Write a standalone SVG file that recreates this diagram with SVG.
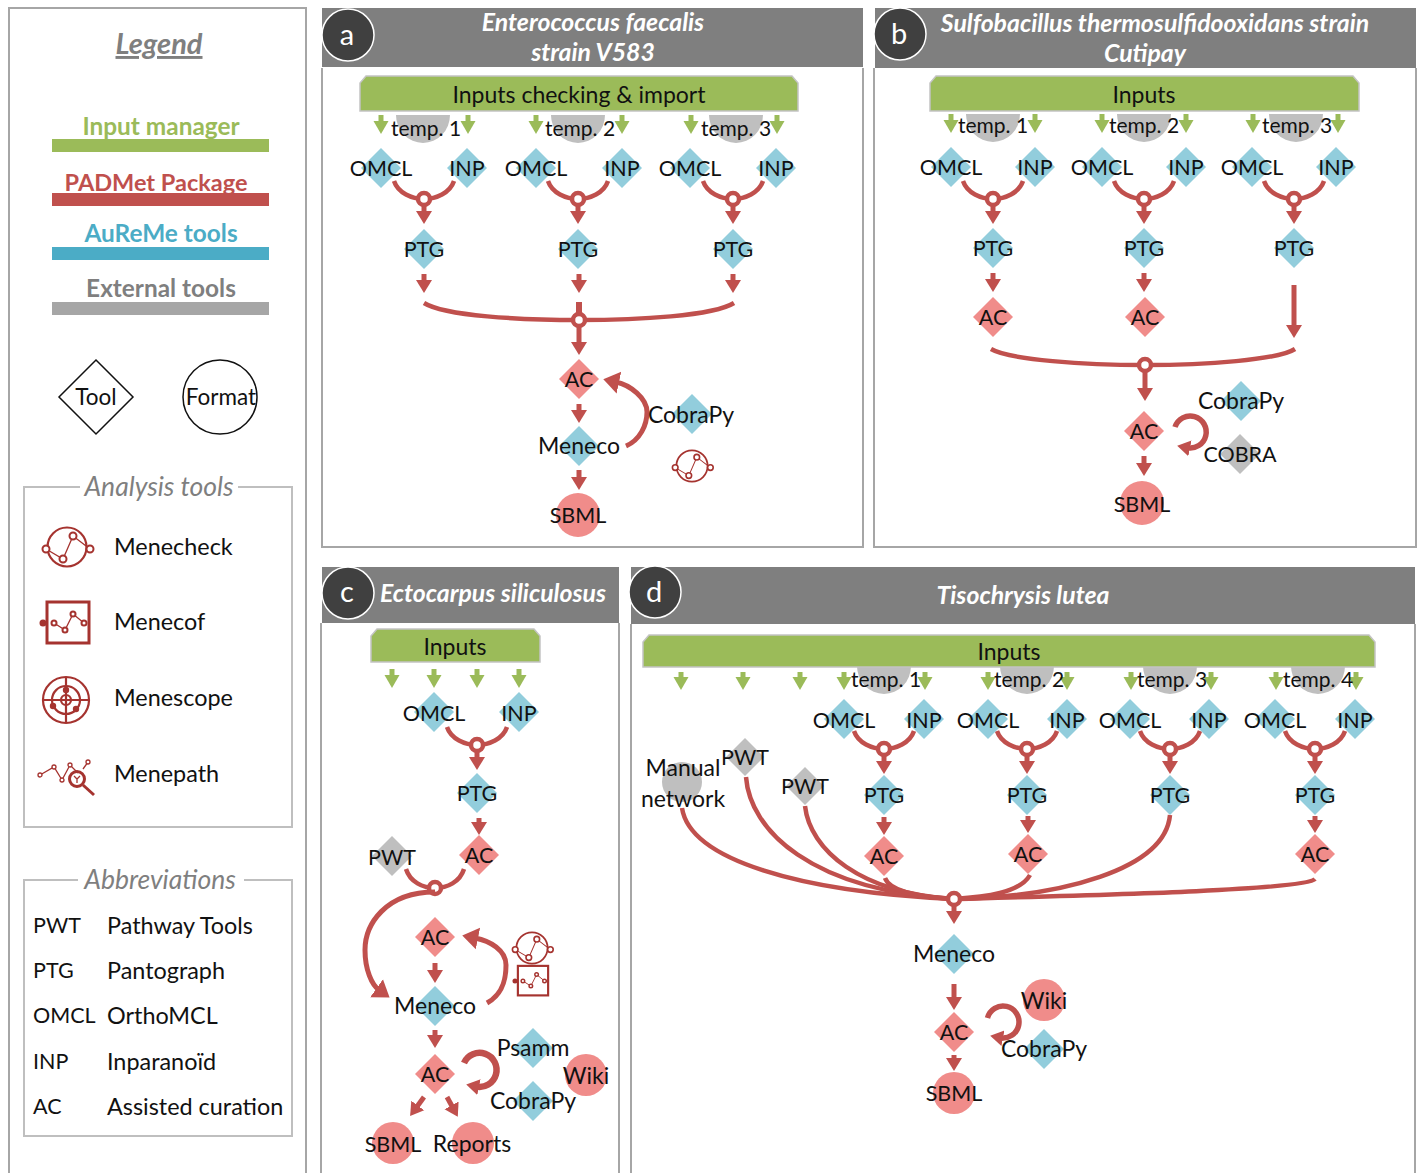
<svg xmlns="http://www.w3.org/2000/svg" width="1419" height="1173" viewBox="0 0 1419 1173">
<style>
text{font-family:Lato,"Open Sans","Liberation Sans",sans-serif;fill:#111}
.t{font-size:23px;text-anchor:middle}
.u{font-size:21.500px;text-anchor:middle}
.l{font-size:23.400px}
.lu{font-size:21.500px}
.s{font-size:21px;text-anchor:middle}
.h{font-size:24.800px;font-weight:700;font-style:italic;fill:#fff;text-anchor:middle}
.tag{font-size:29px;fill:#fff;text-anchor:middle}
.g{font-size:26.500px;font-style:italic;fill:#7f7f7f;text-anchor:middle}
.lt{font-size:24.400px;font-weight:700;text-anchor:middle}
.b{fill:#92cddc}.r{fill:#f08c8a}.y{fill:#bfbfbf}
.hd{fill:#7f7f7f}
.fr{fill:none;stroke:#a6a6a6;stroke-width:2}
.bx{fill:none;stroke:#bfbfbf;stroke-width:2}
.bar{fill:#9bbb59;stroke:#c4c4c4;stroke-width:1.500}
.c{fill:none;stroke:#c0504d;stroke-width:4.500}
.a5{fill:none;stroke:#c0504d;stroke-width:5;marker-end:url(#ab)}
.a6{fill:none;stroke:#c0504d;stroke-width:5.500;marker-end:url(#ah)}
.k{stroke:#c0504d;stroke-width:5;marker-end:url(#ah)}
.q{stroke:#9bbb59;stroke-width:5;marker-end:url(#ag)}
.o{fill:#fff;stroke:#c0504d;stroke-width:4.500}
.ic{fill:none;stroke:#a5332f;stroke-width:1.300}
.icr{fill:none;stroke:#a5332f;stroke-width:2.200}
.icb{fill:none;stroke:#a5332f;stroke-width:3}
.icn{fill:#fff;stroke:#a5332f;stroke-width:2}
.icf{fill:#a5332f}
</style>
<defs>
<marker id="ah" markerUnits="userSpaceOnUse" markerWidth="20" markerHeight="20" refX="3" refY="9" orient="auto"><path d="M0 1 13 9 0 17z" fill="#c0504d"/></marker>
<marker id="ab" markerUnits="userSpaceOnUse" markerWidth="26" markerHeight="26" refX="3" refY="12" orient="auto"><path d="M0 1 16 12 0 23z" fill="#c0504d"/></marker>
<marker id="ag" markerUnits="userSpaceOnUse" markerWidth="20" markerHeight="20" refX="3" refY="9" orient="auto"><path d="M0 1.500 13 9 0 16.500z" fill="#9bbb59"/></marker>
<path id="d" d="M0-20 20 0 0 20-20 0z"/>
<path id="semi" d="M-27 0A27 28 0 0 0 27 0z" fill="#bfbfbf"/>
<g id="fork"><path class="c" d="M-30-18C-26-6-12 0 0 0S26-6 30-18"/><line class="k" x1="0" y1="5" x2="0" y2="15"/><circle class="o" r="6"/></g>
<g id="fork2"><path class="c" d="M-29-19C-25-6-12 0 0 0S25-6 29-19"/><circle class="o" r="6"/></g>
<g id="check"><circle class="icr" r="19.500"/><path class="ic" d="M-21 2-4 12 6-11 23 2"/><circle class="icn" cx="-21" cy="2" r="3.500"/><circle class="icn" cx="-4" cy="12" r="3.500"/><circle class="icn" cx="6" cy="-11" r="3.500"/><circle class="icn" cx="23" cy="2" r="3.500"/></g>
<g id="cof"><rect class="icb" x="-21" y="-21" width="42" height="41"/><path class="ic" d="M-14 0-3 7 5-9 16 0"/><circle class="icn" cx="-14" cy="0" r="2.500"/><circle class="icn" cx="-3" cy="7" r="2.500"/><circle class="icn" cx="5" cy="-9" r="2.500"/><circle class="icn" cx="16" cy="0" r="2.500"/><circle class="icf" cx="-25" cy="0" r="3.500"/></g>
<g id="scope"><circle class="icr" r="23"/><circle class="icr" r="14"/><circle class="icr" r="5"/><path class="icr" d="M-23 0H23M0-23V23"/><circle class="icf" cx="0" cy="-10" r="3.200"/><circle class="icf" cx="-13" cy="6" r="3.200"/><circle class="icf" cx="10" cy="9" r="3.200"/></g>
<g id="path"><path class="ic" d="M-26-2-12-10-4 3 4-12 12-4M17-8 22-15"/><circle class="icn" style="stroke-width:1.300" cx="-26" cy="-2" r="2"/><circle class="icn" style="stroke-width:1.300" cx="-12" cy="-10" r="2"/><circle class="icn" style="stroke-width:1.300" cx="-4" cy="3" r="2"/><circle class="icn" style="stroke-width:1.300" cx="4" cy="-12" r="2"/><circle class="icn" style="stroke-width:1.300" cx="22" cy="-15" r="2"/><circle class="icb" cx="11" cy="2" r="7.500"/><path class="icb" d="M17 8 28 18"/><path class="ic" d="M8-1 11 2 14-1M11 2V6"/></g>
</defs>

<g id="legend">
<rect class="fr" x="9" y="8" width="297" height="1175"/>
<text x="159" y="54" text-anchor="middle" style="font-size:29px;font-weight:700;font-style:italic;fill:#7f7f7f;text-decoration:underline">Legend</text>
<rect x="52" y="139" width="217" height="13" fill="#9bbb59"/><text class="lt" x="161" y="135" style="fill:#9bbb59">Input manager</text>
<rect x="52" y="193" width="217" height="13" fill="#c0504d"/><text class="lt" x="156" y="191" style="fill:#c0504d;font-size:23.500px">PADMet Package</text>
<rect x="52" y="247" width="217" height="13" fill="#4bacc6"/><text class="lt" x="161" y="242" style="fill:#4bacc6">AuReMe tools</text>
<rect x="52" y="302" width="217" height="13" fill="#a6a6a6"/><text class="lt" x="161" y="297" style="fill:#7f7f7f">External tools</text>
<g id="key-tool"><path d="M96 360 133 397 96 434 59 397z" fill="#fff" stroke="#111" stroke-width="1.500"/><text class="s" style="font-size:22.500px" x="96" y="405">Tool</text></g>
<g id="key-format"><circle cx="220" cy="397" r="37" fill="#fff" stroke="#111" stroke-width="1.500"/><text class="s" style="font-size:22.500px" x="221" y="405">Format</text></g>
<path class="bx" d="M80 487H24V827H292V487H238"/>
<text class="g" x="159" y="496">Analysis tools</text>
<use href="#check" x="67" y="547"/><text class="l" x="114" y="555">Menecheck</text>
<use href="#cof" x="68" y="623"/><text class="l" x="114" y="630">Menecof</text>
<use href="#scope" x="66" y="700"/><text class="l" x="114" y="706">Menescope</text>
<use href="#path" x="66" y="777"/><text class="l" x="114" y="782">Menepath</text>
<path class="bx" d="M78 880H24V1136H292V880H244"/>
<text class="g" x="160" y="889">Abbreviations</text>
<text class="lu" x="33" y="933">PWT</text><text class="l" x="107" y="934">Pathway Tools</text>
<text class="lu" x="33" y="978">PTG</text><text class="l" x="107" y="979">Pantograph</text>
<text class="lu" x="33" y="1023">OMCL</text><text class="l" x="107" y="1024">OrthoMCL</text>
<text class="lu" x="33" y="1069">INP</text><text class="l" x="107" y="1070">Inparanoïd</text>
<text class="lu" x="33" y="1114">AC</text><text class="l" x="107" y="1115">Assisted curation</text>
</g>

<g id="panels">
<g id="panel-a"><path class="fr" d="M322 68V547H863V68"/><rect class="hd" x="322" y="8" width="541" height="59"/><circle cx="348" cy="35" r="26" fill="#404040" stroke="#fff" stroke-width="1.500"/><text class="tag" x="347" y="45">a</text><text class="h" x="593" y="31">Enterococcus faecalis</text><text class="h" x="593" y="61">strain V583</text></g>
<g id="panel-b"><path class="fr" d="M874 68V547H1416V68"/><rect class="hd" x="875" y="8" width="541" height="60"/><circle cx="900" cy="34" r="26" fill="#404040" stroke="#fff" stroke-width="1.500"/><text class="tag" x="899" y="44">b</text><text class="h" x="1155" y="32">Sulfobacillus thermosulfidooxidans strain</text><text class="h" x="1145" y="62">Cutipay</text></g>
<g id="panel-c"><path class="fr" d="M321 623V1175M619 623V1175"/><rect class="hd" x="322" y="567" width="297" height="56"/><circle cx="348" cy="593" r="26" fill="#404040" stroke="#fff" stroke-width="1.500"/><text class="tag" x="347" y="602">c</text><text class="h" x="493" y="602">Ectocarpus siliculosus</text></g>
<g id="panel-d"><path class="fr" d="M631 624V1175M1415 624V1175"/><rect class="hd" x="631" y="567" width="784" height="57"/><circle cx="655" cy="592" r="26" fill="#404040" stroke="#fff" stroke-width="1.500"/><text class="tag" x="654" y="602">d</text><text class="h" x="1023" y="604">Tisochrysis lutea</text></g>
</g>

<g id="temps">
<use href="#semi" x="423" y="115"/><use href="#semi" x="578" y="115"/><use href="#semi" x="736" y="115"/>
<use href="#semi" x="993" y="114"/><use href="#semi" x="1144" y="114"/><use href="#semi" x="1296" y="114"/>
<use href="#semi" x="884" y="666"/><use href="#semi" x="1027" y="666"/><use href="#semi" x="1170" y="666"/><use href="#semi" x="1318" y="666"/>
</g>

<g id="connectors">
<!-- a -->
<line class="q" x1="381" y1="115" x2="381" y2="124"/><line class="q" x1="468" y1="115" x2="468" y2="124"/><line class="q" x1="536" y1="115" x2="536" y2="124"/><line class="q" x1="622" y1="115" x2="622" y2="124"/><line class="q" x1="691" y1="115" x2="691" y2="124"/><line class="q" x1="777" y1="115" x2="777" y2="124"/>
<use href="#fork" x="424" y="199"/><use href="#fork" x="578" y="199"/><use href="#fork" x="733" y="199"/>
<line class="k" x1="424" y1="274" x2="424" y2="283"/><line class="k" x1="579" y1="274" x2="579" y2="283"/><line class="k" x1="733" y1="274" x2="733" y2="283"/>
<path class="c" d="M424 303C445 316 520 320 579 320S713 316 734 303"/>
<line class="c" x1="579" y1="302" x2="579" y2="316" style="stroke-width:6"/>
<circle class="o" cx="579" cy="320" r="6"/>
<line class="k" x1="579" y1="326" x2="579" y2="345"/>
<line class="k" x1="579" y1="404" x2="579" y2="413"/>
<line class="k" x1="579" y1="470" x2="579" y2="480"/>
<path class="a5" d="M626 446C640 440 647 425 647 412 647 398 630 385 616 382"/>
<!-- b -->
<line class="q" x1="951" y1="114" x2="951" y2="123"/><line class="q" x1="1035" y1="114" x2="1035" y2="123"/><line class="q" x1="1102" y1="114" x2="1102" y2="123"/><line class="q" x1="1186" y1="114" x2="1186" y2="123"/><line class="q" x1="1253" y1="114" x2="1253" y2="123"/><line class="q" x1="1338" y1="114" x2="1338" y2="123"/>
<use href="#fork" x="993" y="199"/><use href="#fork" x="1144" y="199"/><use href="#fork" x="1294" y="199"/>
<line class="k" x1="993" y1="273" x2="993" y2="282"/><line class="k" x1="1144" y1="273" x2="1144" y2="282"/>
<line class="k" x1="1294" y1="285" x2="1294" y2="328"/>
<path class="c" d="M991 349C1010 360 1085 365 1145 365S1278 360 1295 349"/>
<circle class="o" cx="1145" cy="365" r="6"/>
<line class="k" x1="1145" y1="371" x2="1145" y2="391"/>
<line class="k" x1="1144" y1="456" x2="1144" y2="466"/>
<path class="a6" d="M1175 427A16 16 0 1 1 1187 447.700"/>
<!-- c -->
<line class="q" x1="392" y1="669" x2="392" y2="678"/><line class="q" x1="434" y1="669" x2="434" y2="678"/><line class="q" x1="477" y1="669" x2="477" y2="678"/><line class="q" x1="519" y1="669" x2="519" y2="678"/>
<use href="#fork" x="477" y="745"/>
<line class="k" x1="479" y1="818" x2="479" y2="825"/>
<use href="#fork2" x="435" y="888"/>
<path class="a5" d="M435 892C385 892 365 925 365 950 365 970 372 985 379 990"/>
<line class="k" x1="435" y1="963" x2="435" y2="973"/>
<line class="k" x1="435" y1="1030" x2="435" y2="1038"/>
<path class="a5" d="M487 1003C505 993 506 975 506 965 506 950 490 941 475 938"/>
<path class="a6" style="stroke-width:6.500" d="M464 1063A17 17 0 1 1 476 1086.500"/>
<line class="k" x1="424" y1="1097" x2="416" y2="1108"/>
<line class="k" x1="447" y1="1097" x2="453" y2="1108"/>
<!-- d -->
<line class="q" x1="681" y1="672" x2="681" y2="680"/><line class="q" x1="743" y1="672" x2="743" y2="680"/><line class="q" x1="800" y1="672" x2="800" y2="680"/><line class="q" x1="844" y1="672" x2="844" y2="680"/><line class="q" x1="925" y1="672" x2="925" y2="680"/><line class="q" x1="988" y1="672" x2="988" y2="680"/><line class="q" x1="1067" y1="672" x2="1067" y2="680"/><line class="q" x1="1131" y1="672" x2="1131" y2="680"/><line class="q" x1="1211" y1="672" x2="1211" y2="680"/><line class="q" x1="1276" y1="672" x2="1276" y2="680"/><line class="q" x1="1356" y1="672" x2="1356" y2="680"/>
<use href="#fork" x="884" y="749"/><use href="#fork" x="1027" y="749"/><use href="#fork" x="1170" y="749"/><use href="#fork" x="1315" y="749"/>
<line class="k" x1="884" y1="817" x2="884" y2="825"/><line class="k" x1="1028" y1="816" x2="1028" y2="823"/><line class="k" x1="1315" y1="816" x2="1315" y2="823"/>
<path class="c" d="M682 808C690 860 800 892 954 899"/>
<path class="c" d="M746 777C750 830 810 890 954 899"/>
<path class="c" d="M805 806C810 850 860 893 954 899"/>
<path class="c" d="M885 878C890 892 920 897 954 899"/>
<path class="c" d="M1030 875C1020 893 985 897 954 899"/>
<path class="c" d="M1170 815C1165 870 1060 897 954 899"/>
<path class="c" d="M1315 879C1305 890 1100 895 954 899"/>
<circle class="o" cx="954" cy="899" r="6"/>
<line class="k" x1="954" y1="905" x2="954" y2="914"/>
<line class="k" x1="954" y1="984" x2="954" y2="1000"/>
<line class="k" x1="954" y1="1055" x2="954" y2="1061"/>
<path class="a6" d="M987.500 1018A16 16 0 1 1 1000 1037.700"/>
</g>

<g id="nodes">
<g id="input-a"><path class="bar" d="M360 111V83L366 76H792L798 83V111z"/><text class="t" x="579" y="103">Inputs checking &amp; import</text></g>
<text class="s" x="426" y="136">temp. 1</text><text class="s" x="580" y="136">temp. 2</text><text class="s" x="736" y="136">temp. 3</text>
<g id="a-omcl1"><use href="#d" class="b" x="381" y="168"/><text class="u" x="381" y="176">OMCL</text></g>
<g id="a-inp1"><use href="#d" class="b" x="467" y="168"/><text class="u" x="467" y="176">INP</text></g>
<g id="a-omcl2"><use href="#d" class="b" x="536" y="168"/><text class="u" x="536" y="176">OMCL</text></g>
<g id="a-inp2"><use href="#d" class="b" x="622" y="168"/><text class="u" x="622" y="176">INP</text></g>
<g id="a-omcl3"><use href="#d" class="b" x="690" y="168"/><text class="u" x="690" y="176">OMCL</text></g>
<g id="a-inp3"><use href="#d" class="b" x="776" y="168"/><text class="u" x="776" y="176">INP</text></g>
<g id="a-ptg1"><use href="#d" class="b" x="424" y="249"/><text class="u" x="424" y="257">PTG</text></g>
<g id="a-ptg2"><use href="#d" class="b" x="578" y="249"/><text class="u" x="578" y="257">PTG</text></g>
<g id="a-ptg3"><use href="#d" class="b" x="733" y="249"/><text class="u" x="733" y="257">PTG</text></g>
<g id="a-ac"><use href="#d" class="r" x="579" y="379"/><text class="u" x="579" y="387">AC</text></g>
<g id="a-meneco"><use href="#d" class="b" x="579" y="446"/><text class="t" x="579" y="454">Meneco</text></g>
<g id="a-sbml"><circle class="r" cx="578" cy="515" r="22"/><text class="u" x="578" y="523">SBML</text></g>
<g id="a-cobrapy"><use href="#d" class="b" x="692" y="414"/><text class="t" x="691" y="423">CobraPy</text></g>
<use href="#check" transform="translate(692 466) scale(.8)"/>

<g id="input-b"><path class="bar" d="M930 111V83L936 76H1353L1359 83V111z"/><text class="t" x="1144" y="103">Inputs</text></g>
<text class="s" x="993" y="133">temp. 1</text><text class="s" x="1144" y="133">temp. 2</text><text class="s" x="1297" y="133">temp. 3</text>
<g id="b-omcl1"><use href="#d" class="b" x="951" y="167"/><text class="u" x="951" y="175">OMCL</text></g>
<g id="b-inp1"><use href="#d" class="b" x="1035" y="167"/><text class="u" x="1035" y="175">INP</text></g>
<g id="b-omcl2"><use href="#d" class="b" x="1102" y="167"/><text class="u" x="1102" y="175">OMCL</text></g>
<g id="b-inp2"><use href="#d" class="b" x="1186" y="167"/><text class="u" x="1186" y="175">INP</text></g>
<g id="b-omcl3"><use href="#d" class="b" x="1252" y="167"/><text class="u" x="1252" y="175">OMCL</text></g>
<g id="b-inp3"><use href="#d" class="b" x="1336" y="167"/><text class="u" x="1336" y="175">INP</text></g>
<g id="b-ptg1"><use href="#d" class="b" x="993" y="248"/><text class="u" x="993" y="256">PTG</text></g>
<g id="b-ptg2"><use href="#d" class="b" x="1144" y="248"/><text class="u" x="1144" y="256">PTG</text></g>
<g id="b-ptg3"><use href="#d" class="b" x="1294" y="248"/><text class="u" x="1294" y="256">PTG</text></g>
<g id="b-ac1"><use href="#d" class="r" x="993" y="317"/><text class="u" x="993" y="325">AC</text></g>
<g id="b-ac2"><use href="#d" class="r" x="1145" y="317"/><text class="u" x="1145" y="325">AC</text></g>
<g id="b-ac3"><use href="#d" class="r" x="1144" y="431"/><text class="u" x="1144" y="439">AC</text></g>
<g id="b-sbml"><circle class="r" cx="1142" cy="503" r="22"/><text class="u" x="1142" y="512">SBML</text></g>
<g id="b-cobrapy"><use href="#d" class="b" x="1241" y="401"/><text class="t" x="1241" y="409">CobraPy</text></g>
<g id="b-cobra"><use href="#d" class="y" x="1240" y="454"/><text class="u" x="1240" y="462">COBRA</text></g>

<g id="input-c"><path class="bar" d="M371 662V636L377 629H534L540 636V662z"/><text class="t" x="455" y="655">Inputs</text></g>
<g id="c-omcl"><use href="#d" class="b" x="434" y="712"/><text class="u" x="434" y="721">OMCL</text></g>
<g id="c-inp"><use href="#d" class="b" x="519" y="712"/><text class="u" x="519" y="721">INP</text></g>
<g id="c-ptg"><use href="#d" class="b" x="477" y="793"/><text class="u" x="477" y="801">PTG</text></g>
<g id="c-ac1"><use href="#d" class="r" x="479" y="855"/><text class="u" x="479" y="863">AC</text></g>
<g id="c-pwt"><use href="#d" class="y" x="392" y="856"/><text class="u" x="392" y="865">PWT</text></g>
<g id="c-ac2"><use href="#d" class="r" x="435" y="937"/><text class="u" x="435" y="945">AC</text></g>
<g id="c-meneco"><use href="#d" class="b" x="435" y="1006"/><text class="t" x="435" y="1014">Meneco</text></g>
<g id="c-ac3"><use href="#d" class="r" x="435" y="1074"/><text class="u" x="435" y="1082">AC</text></g>
<g id="c-psamm"><use href="#d" class="b" x="533" y="1048"/><text class="t" x="533" y="1056">Psamm</text></g>
<g id="c-cobrapy"><use href="#d" class="b" x="533" y="1101"/><text class="t" x="533" y="1109">CobraPy</text></g>
<g id="c-wiki"><circle class="r" cx="586" cy="1075" r="21"/><text class="t" x="586" y="1084">Wiki</text></g>
<g id="c-sbml"><circle class="r" cx="393" cy="1143" r="21"/><text class="u" x="393" y="1152">SBML</text></g>
<g id="c-reports"><circle class="r" cx="473" cy="1143" r="21"/><text class="t" x="472" y="1152">Reports</text></g>
<use href="#check" transform="translate(532 948) scale(.8)"/>
<use href="#cof" transform="translate(533 981) scale(.72)"/>

<g id="input-d"><path class="bar" d="M643 667V642L649 635H1369L1375 642V667z"/><text class="t" x="1009" y="660">Inputs</text></g>
<text class="s" x="886" y="687">temp. 1</text><text class="s" x="1029" y="687">temp. 2</text><text class="s" x="1172" y="687">temp. 3</text><text class="s" x="1318" y="687">temp. 4</text>
<g id="d-omcl1"><use href="#d" class="b" x="844" y="719"/><text class="u" x="844" y="728">OMCL</text></g>
<g id="d-inp1"><use href="#d" class="b" x="924" y="719"/><text class="u" x="924" y="728">INP</text></g>
<g id="d-omcl2"><use href="#d" class="b" x="988" y="719"/><text class="u" x="988" y="728">OMCL</text></g>
<g id="d-inp2"><use href="#d" class="b" x="1067" y="719"/><text class="u" x="1067" y="728">INP</text></g>
<g id="d-omcl3"><use href="#d" class="b" x="1130" y="719"/><text class="u" x="1130" y="728">OMCL</text></g>
<g id="d-inp3"><use href="#d" class="b" x="1209" y="719"/><text class="u" x="1209" y="728">INP</text></g>
<g id="d-omcl4"><use href="#d" class="b" x="1275" y="719"/><text class="u" x="1275" y="728">OMCL</text></g>
<g id="d-inp4"><use href="#d" class="b" x="1355" y="719"/><text class="u" x="1355" y="728">INP</text></g>
<g id="d-ptg1"><use href="#d" class="b" x="884" y="795"/><text class="u" x="884" y="803">PTG</text></g>
<g id="d-ptg2"><use href="#d" class="b" x="1027" y="795"/><text class="u" x="1027" y="803">PTG</text></g>
<g id="d-ptg3"><use href="#d" class="b" x="1170" y="795"/><text class="u" x="1170" y="803">PTG</text></g>
<g id="d-ptg4"><use href="#d" class="b" x="1315" y="795"/><text class="u" x="1315" y="803">PTG</text></g>
<g id="d-ac1"><use href="#d" class="r" x="884" y="856"/><text class="u" x="884" y="864">AC</text></g>
<g id="d-ac2"><use href="#d" class="r" x="1028" y="854"/><text class="u" x="1028" y="862">AC</text></g>
<g id="d-ac4"><use href="#d" class="r" x="1315" y="854"/><text class="u" x="1315" y="862">AC</text></g>
<g id="d-manual"><circle class="y" cx="682" cy="782" r="20"/><text class="t" x="683" y="776">Manual</text><text class="t" x="683" y="807">network</text></g>
<g id="d-pwt1"><use href="#d" class="y" x="745" y="757" transform="translate(745 757) scale(.95) translate(-745 -757)"/><text class="u" x="745" y="765">PWT</text></g>
<g id="d-pwt2"><use href="#d" class="y" x="805" y="786" transform="translate(805 786) scale(.95) translate(-805 -786)"/><text class="u" x="805" y="794">PWT</text></g>
<g id="d-meneco"><use href="#d" class="b" x="954" y="954"/><text class="t" x="954" y="962">Meneco</text></g>
<g id="d-ac5"><use href="#d" class="r" x="954" y="1032"/><text class="u" x="954" y="1040">AC</text></g>
<g id="d-sbml"><circle class="r" cx="954" cy="1093" r="21"/><text class="u" x="954" y="1101">SBML</text></g>
<g id="d-wiki"><circle class="r" cx="1044" cy="1000" r="21"/><text class="t" x="1044" y="1009">Wiki</text></g>
<g id="d-cobrapy"><use href="#d" class="b" x="1044" y="1049"/><text class="t" x="1044" y="1057">CobraPy</text></g>
</g>
</svg>
